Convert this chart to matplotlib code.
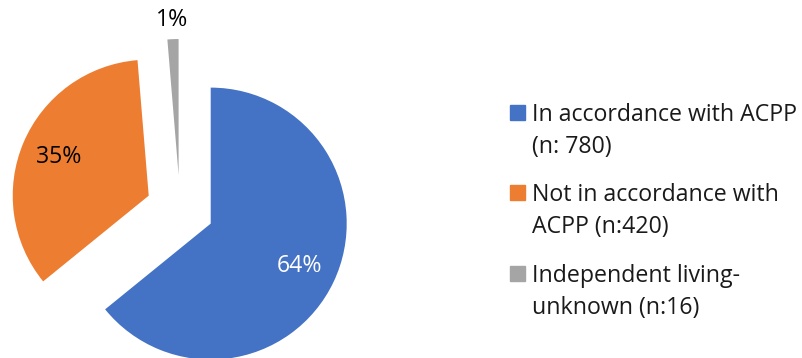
import matplotlib
matplotlib.use("Agg")
import matplotlib.pyplot as plt
from matplotlib.patches import Rectangle
import numpy as np

# Data
categories = [
    "In accordance with ACPP\n(n: 780)",
    "Not in accordance with\nACPP (n:420)",
    "Independent living-\nunknown (n:16)",
]
counts = [780, 420, 16]
colors = ["#4472C4", "#ED7D31", "#A5A5A5"]
pct_colors = ["white", "black", "black"]

plt.rcParams["font.family"] = ["Open Sans", "DejaVu Sans"]
FS = 16.7

W, H = 802, 358
fig = plt.figure(figsize=(W / 100, H / 100), dpi=100)

# Pie axes: centre at (180, 209) px from top-left, radius 136 px
cx, cy, R = 180.0, 209.0, 136.0
ax = fig.add_axes([0, 0, 1, 1])

explode = [0.25] * len(counts)
wedges, texts, autotexts = ax.pie(
    counts,
    colors=colors,
    explode=explode,
    startangle=90,
    counterclock=False,
    autopct=lambda p: f"{p:.0f}%",
    pctdistance=0.72,
    radius=1.0,
    center=(0, 0),
    textprops=dict(fontsize=FS),
    frame=True,
)
ax.set_xlim(-cx / R, (W - cx) / R)
ax.set_ylim(-(H - cy) / R, cy / R)
ax.set_aspect("auto")
ax.axis("off")

for t, c in zip(autotexts, pct_colors):
    t.set_color(c)

# Small slice: label sits outside the wedge
w = wedges[2]
mid = np.deg2rad((w.theta1 + w.theta2) / 2)
ox, oy = w.center
autotexts[2].set_position((ox + 1.14 * np.cos(mid), oy + 1.14 * np.sin(mid)))

# Legend drawn on the figure, in pixel units from top-left
def fx(px):
    return px / W

def fy(py):
    return 1 - py / H

sq = 15
first_baselines = [121, 201, 281.5]
line_gap = 32
for label, col, base in zip(categories, colors, first_baselines):
    fig.patches.append(Rectangle((fx(510), fy(base - 1)), sq / W, sq / H,
                                 transform=fig.transFigure, color=col,
                                 figure=fig))
    for k, line in enumerate(label.split("\n")):
        fig.text(fx(532), fy(base + k * line_gap), line, fontsize=FS,
                 color="#1a1a1a", ha="left", va="baseline")

fig.savefig("out.png", dpi=100)
